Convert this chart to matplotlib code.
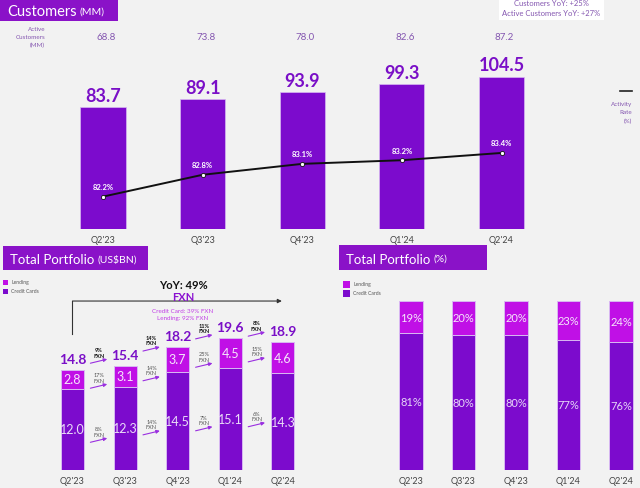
import matplotlib.pyplot as plt
from matplotlib.patches import Rectangle
from matplotlib.lines import Line2D

plt.rcParams['font.family'] = ['Lato', 'DejaVu Sans']

quarters = ["Q2'23", "Q3'23", "Q4'23", "Q1'24", "Q2'24"]
customers = [83.7, 89.1, 93.9, 99.3, 104.5]
active_customers = [68.8, 73.8, 78.0, 82.6, 87.2]
activity_rate = [82.2, 82.8, 83.1, 83.2, 83.4]

credit_cards = [12.0, 12.3, 14.5, 15.1, 14.3]
lending = [2.8, 3.1, 3.7, 4.5, 4.6]
total_portfolio = [14.8, 15.4, 18.2, 19.6, 18.9]

total_growth = ["9%", "14%", "11%", "8%"]
lending_growth = ["17%", "14%", "25%", "15%"]
credit_growth = ["8%", "14%", "7%", "6%"]

credit_share = [81, 80, 80, 77, 76]
lending_share = [19, 20, 20, 23, 24]

BG = '#f2f2f2'
PURPLE = '#7c0bcd'
MAGENTA = '#c010e6'
TITLE = '#8a12c8'
LABEL = '#7a0fc7'
SOFT = '#8456b0'
EDGE = '#d8b8f2'

W, H = 640, 489


def box(x0, y0, x1, y1):
    return [x0 / W, 1 - y1 / H, (x1 - x0) / W, (y1 - y0) / H]


def clean(ax):
    ax.set_facecolor('none')
    for s in ax.spines.values():
        s.set_visible(False)
    ax.set_yticks([])
    ax.tick_params(axis='x', length=0, pad=4.5, labelsize=6.5, labelcolor='#444444')


def title_box(x0, y0, x1, y1, big, small, size):
    fig.add_artist(Rectangle((x0 / W, 1 - y1 / H), (x1 - x0) / W, (y1 - y0) / H,
                             transform=fig.transFigure, color=TITLE, lw=0))
    yc = 1 - ((y0 + y1) / 2) / H
    t = fig.text((x0 + 7) / W, yc, big, color='white', fontsize=size,
                 va='center_baseline', ha='left')
    r = fig.canvas.get_renderer()
    bb = t.get_window_extent(renderer=r)
    fig.text(bb.x1 / W + 3 / W, yc, small, color='white', fontsize=7.5,
             va='center_baseline', ha='left')


def legend(x, y, size):
    for k, (lab, col) in enumerate([('Lending', MAGENTA), ('Credit Cards', PURPLE)]):
        yy = y + k * 9
        fig.add_artist(Rectangle((x / W, 1 - (yy + size / 2) / H), size / W, size / H,
                                 transform=fig.transFigure, color=col, lw=0))
        fig.text((x + size + 3) / W, 1 - yy / H, lab, fontsize=3.6, color='#555555',
                 va='center', ha='left')


fig = plt.figure(figsize=(6.4, 4.89), dpi=100, facecolor=BG)
x = list(range(len(quarters)))

# ---- customers chart
ax = fig.add_axes(box(0, 0, 640, 230))
clean(ax)
ax.set_xlim(-1.034, 5.39)
ax.set_ylim(0, 158)
ax.bar(x, customers, width=0.452, color=PURPLE, edgecolor=EDGE, lw=0.5)
for i, c in enumerate(customers):
    ax.text(i, c + 8.2, f'{c}', ha='center', va='center', fontsize=13,
            fontweight='bold', color=LABEL)
for i, a in enumerate(active_customers):
    ax.text(i + 0.03, 132, f'{a}', ha='center', va='center', fontsize=7, color=SOFT)
ax.set_xticks(x, quarters)
fig.text(45 / W, 1 - 38 / H, 'Active\nCustomers\n(MM)', ha='right', va='center',
         fontsize=4.5, color=SOFT, linespacing=1.7)

ax2 = ax.twinx()
ax2.set_facecolor('none')
for s in ax2.spines.values():
    s.set_visible(False)
ax2.set_yticks([])
ax2.set_ylim(81.31, 87.63)
ax2.plot(x, activity_rate, color='#111111', lw=1.4, marker='o', ms=3,
         mfc='white', mec='#111111', mew=0.6)
for i, r in enumerate(activity_rate):
    ax2.text(i, r + 0.28, f'{r}%', ha='center', va='center', fontsize=5.5,
             fontweight='bold', color='white')

# top right note
fig.add_artist(Rectangle((499 / W, 1 - 21 / H), 105 / W, 21 / H,
                         transform=fig.transFigure, color='white', lw=0))
fig.text(551.5 / W, 1 - 4 / H, 'Customers YoY: +25%', ha='center', va='center',
         fontsize=5.5, color=SOFT)
fig.text(551.5 / W, 1 - 13.5 / H, 'Active Customers YoY: +27%', ha='center',
         va='center', fontsize=5.5, color=SOFT)
fig.add_artist(Line2D([620 / W, 632 / W], [1 - 92 / H] * 2, color='#222222', lw=1.2,
                      transform=fig.transFigure))
fig.text(632 / W, 1 - 113 / H, 'Activity\nRate\n(%)', ha='right', va='center',
         fontsize=4.5, color=SOFT, linespacing=1.8)

# ---- portfolio US$BN
axl = fig.add_axes(box(0, 275, 330, 471))
clean(axl)
axl.set_xlim(-1.378, 4.895)
axl.set_ylim(0, 29.0)
axl.bar(x, credit_cards, width=0.437, color=PURPLE, edgecolor=EDGE, lw=0.7)
axl.bar(x, lending, bottom=credit_cards, width=0.437, color=MAGENTA, edgecolor=EDGE, lw=0.7)
for i in x:
    axl.text(i, credit_cards[i] / 2, f'{credit_cards[i]}', ha='center', va='center',
             fontsize=9, color='#eadcf7')
    axl.text(i, credit_cards[i] + lending[i] / 2, f'{lending[i]}', ha='center',
             va='center', fontsize=9, color='#f5e6fb')
    axl.text(i, total_portfolio[i] + 1.6, f'{total_portfolio[i]}', ha='center',
             va='center', fontsize=10, fontweight='bold', color=LABEL)
axl.set_xticks(x, quarters)

axl.plot([0, 0], [20.1, 25.0], color='#333333', lw=0.8)
axl.annotate('', xy=(3.98, 25.0), xytext=(0, 25.0),
             arrowprops=dict(arrowstyle='-|>', color='#333333', lw=0.8,
                             mutation_scale=6, shrinkA=0, shrinkB=0))
axl.text(2.1, 27.4, 'YoY: 49%', ha='center', va='center', fontsize=8,
         fontweight='bold', color='#111111')
axl.text(2.1, 25.7, 'FXN', ha='center', va='center', fontsize=8,
         fontweight='bold', color='#8a10d0')
axl.text(2.1, 23.6, 'Credit Card: 39% FXN', ha='center', va='center', fontsize=4.5,
         color='#c13fe6')
axl.text(2.1, 22.5, 'Lending: 92% FXN', ha='center', va='center', fontsize=4.5,
         color='#c13fe6')

rows = [(total_growth, [15.8, 17.6, 19.4, 19.8], '#111111', 'bold'),
        (lending_growth, [12.1, 13.2, 15.2, 16.0], '#555555', 'normal'),
        (credit_growth, [4.1, 5.2, 5.8, 6.4], '#555555', 'normal')]
for labels, ys, col, wt in rows:
    for i, (lab, y0) in enumerate(zip(labels, ys)):
        cx = i + 0.5
        axl.annotate('', xy=(cx + 0.16, y0 + 0.6), xytext=(cx - 0.16, y0),
                     arrowprops=dict(arrowstyle='-|>', color='#9a2fe0', lw=0.8,
                                     mutation_scale=5, shrinkA=0, shrinkB=0))
        axl.text(cx, y0 + 1.6, f'{lab}\nFXN', ha='center', va='center', fontsize=4,
                 color=col, fontweight=wt, linespacing=1.1)

# ---- portfolio %
axr = fig.add_axes(box(330, 275, 640, 471))
clean(axr)
axr.set_xlim(-1.543, 4.362)
axr.set_ylim(0, 116)
axr.bar(x, credit_share, width=0.457, color=PURPLE, edgecolor=EDGE, lw=0.7)
axr.bar(x, lending_share, bottom=credit_share, width=0.457, color=MAGENTA,
        edgecolor=EDGE, lw=0.7)
for i in x:
    axr.text(i, credit_share[i] / 2, f'{credit_share[i]}%', ha='center', va='center',
             fontsize=8, color='#e6d6f7')
    axr.text(i, credit_share[i] + lending_share[i] / 2, f'{lending_share[i]}%',
             ha='center', va='center', fontsize=8, color='#f5e6fb')
axr.set_xticks(x, quarters)

# titles and legends
title_box(0, 0, 118, 22, 'Customers', '(MM)', 10.5)
title_box(3, 247, 148, 271, 'Total Portfolio', '(US$BN)', 9.5)
title_box(339, 246, 487, 271, 'Total Portfolio', '(%)', 9.5)
legend(3, 283, 5)
legend(343, 285, 7)

fig.savefig('out.png', dpi=100, facecolor=BG)
plt.close(fig)
